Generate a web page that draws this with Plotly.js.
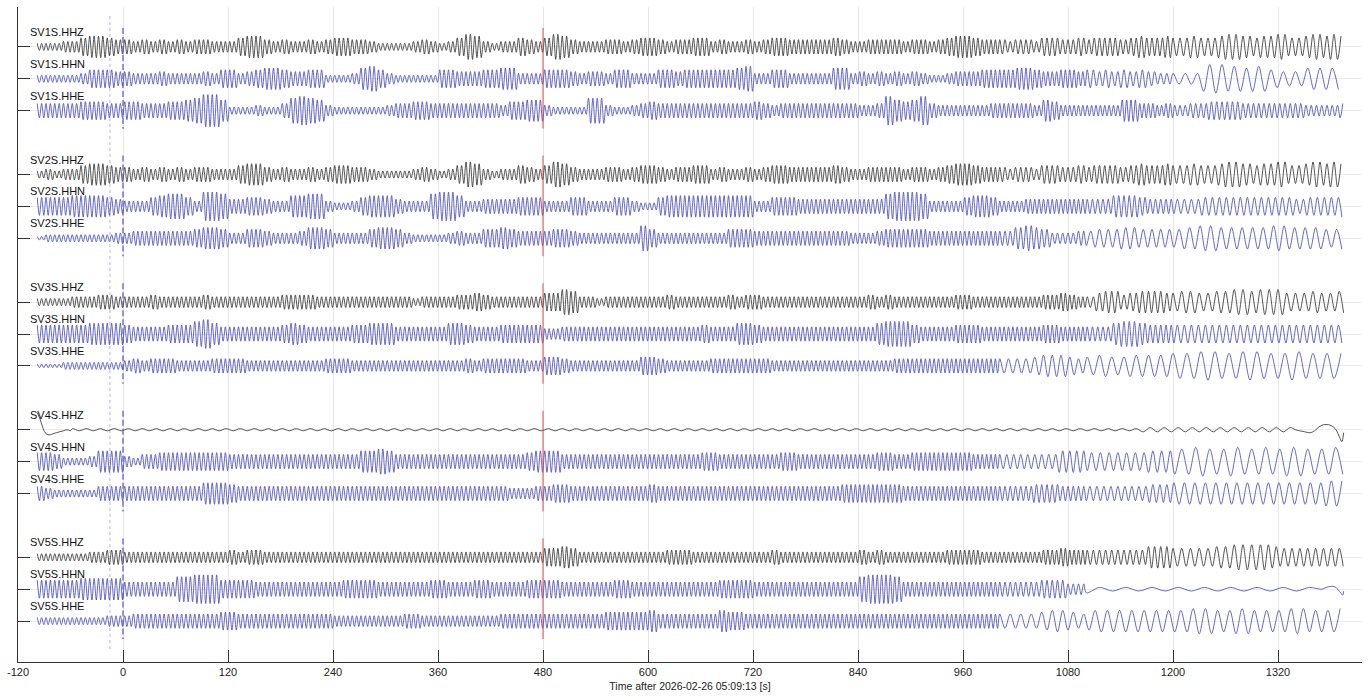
<!DOCTYPE html>
<html>
<head>
<meta charset="utf-8">
<script src="https://cdn.plot.ly/plotly-3.0.1.min.js"></script>
<style>
html,body{margin:0;padding:0;background:#fff;}
#chart{width:1371px;height:698px;}
</style>
</head>
<body>
<div id="chart"></div>
<script>
// ---------------- data ----------------
// Time axis: seconds after 2026-02-26 05:09:13
const xTickVals = [-120, 0, 120, 240, 360, 480, 600, 720, 840, 960, 1080, 1200, 1320];
const stations = ['SV1S', 'SV2S', 'SV3S', 'SV4S', 'SV5S'];
const channels = ['HHZ', 'HHN', 'HHE'];
const traceStart = -98, traceEnd = 1395;
const markerTimes = {grey: -15, blue: 0, red: 480};

// Envelope amplitude per 10 s bin (digit 0-9), one string of 10 bins per 100 s, from -100 s
const env_SV1S_HHZ = ["2223356654","4343434344","3335664343","3434554432","2223432357","6323354357","6433344345","5434455343","3434554444","4543344443","4434566544","4344355445","4555456556","5565567765","6675567676"];
const env_SV1S_HHN = ["2222235554","4333433334","3553456654","4552223675","3222225544","4556633355","5434435533","3554555555","6733553333","3663434343","4322344455","5566544554","5454545433","3337887767","7544466666"];
const env_SV1S_HHE = ["4444455544","5544455679","9622232247","8763222222","3445544444","4443556632","2227732234","5444444444","4454344444","4444334865","6843333334","4444365333","3333664434","3344555544","4444433334"];
const env_SV2S_HHZ = ["2323356654","4343434344","3335664343","3434554432","2223432357","6323354357","6433344345","5434455343","3434554444","4543344443","4434566544","4344355445","4555456556","5565567765","6675567676"];
const env_SV2S_HHN = ["5555666654","3335677538","8744554336","6773223566","6433378863","3444455533","3553335532","2566666666","6633555444","4444444788","8733335665","3334444444","4446665444","4445555555","5555455556"];
const env_SV2S_HHE = ["1222222223","3444444456","6533554333","4665333356","6532222343","3556544445","5433333337","5333333335","5544444444","4443334555","5544444444","4467653334","4555665555","5667766666","6776666556"];
const env_SV3S_HHZ = ["2222333443","3334333334","3333333344","4433333333","3332333344","5433333355","7633233333","3343333334","3443333333","3333343433","3333344333","3333344543","3566456665","5665566776","7775556556"];
const env_SV3S_HHN = ["5555556666","5444455578","6444444456","5444445566","6444444665","4445555533","4444444444","4444445444","6654444444","4444446777","5444455544","4444455444","4446776555","5555555555","5555555555"];
const env_SV3S_HHE = ["1112222222","3434443333","4444333333","3334443333","3333333334","3444443355","4333333335","5433333444","4444333333","3333333344","4444444444","4444566654","5665566666","7778877788","7778877777"];
const env_SV4S_HHZ = ["0000111111","1111111111","1111111111","1111111111","1111111111","1111111111","1111111111","1111111111","1111111111","1111111111","1111111111","1111111111","1111112222","2222222222","2222000000"];
const env_SV4S_HHN = ["5542223666","3244555555","5544444444","4444444667","6444444444","4444445666","4444444444","4444445544","4444455444","4444445544","5555555444","4444444666","5555555666","7788778877","8778877787"];
const env_SV4S_HHE = ["4322222444","4444444446","6654444444","4444444444","4444444444","4444333445","5444444444","5444444444","4444444444","4455555554","4444444444","4444555444","4444444555","6666666666","6666666777"];
const env_SV5S_HHZ = ["2222223344","3333333333","3343443333","3333333333","3333333333","3333333355","6533333333","3344433333","3333433333","3333434333","3333444433","3333344544","4444444666","5555566777","7655555555"];
const env_SV5S_HHN = ["5555566666","4444447788","8555544444","4444455554","4444455444","5544445555","4444445544","4444444455","5544444444","4444788874","4444444444","4444455533","2111111111","1111111111","1111111000"];
const env_SV5S_HHE = ["2222222233","3444444444","4554444444","4444333333","3344333333","3334444444","4444455555","6444444465","5444444444","4444444444","4444444444","4444456654","5666666666","6677766776","6667766667"];

// Dominant period (s) per 100 s block, from -100 s
const per_SV1S_HHZ = [5,5,5,5,5,5,5,5,5,5,5,6,6,8,8];
const per_SV1S_HHN = [5,5,5,5,5,5,5,5,5,5,5,5,7,14,14];
const per_SV1S_HHE = [5,5,5,5,5,5,5,5,5,5,5,5,5,6,6];
const per_SV2S_HHZ = [5,5,5,5,5,5,5,5,5,5,5,6,6,8,8];
const per_SV2S_HHN = [5,5,5,5,5,5,5,5,5,5,5,5,6,8,8];
const per_SV2S_HHE = [5,5,5,5,5,5,5,5,5,5,5,6,10,12,12];
const per_SV3S_HHZ = [5,5,5,5,5,5,5,5,5,5,5,5,7,10,10];
const per_SV3S_HHN = [5,5,5,5,5,5,5,5,5,5,5,5,6,8,8];
const per_SV3S_HHE = [5,5,5,5,5,5,5,5,5,5,5,10,14,16,16];
const per_SV4S_HHZ = [16,16,16,16,16,16,16,16,16,16,16,16,16,16,16];
const per_SV4S_HHN = [5,5,5,5,5,5,5,5,5,5,5,8,10,16,16];
const per_SV4S_HHE = [5,5,5,5,5,5,5,5,5,5,5,6,8,12,12];
const per_SV5S_HHZ = [5,5,5,5,5,5,5,5,5,5,5,5,7,10,9];
const per_SV5S_HHN = [5,5,5,5,5,5,5,5,5,5,5,6,30,30,30];
const per_SV5S_HHE = [5,5,5,5,5,5,5,5,5,5,5,12,14,14,14];

// Transients read directly (time s, offset in trace units)
const sv4zStartT = [-98,-95,-92,-89,-86,-83,-80,-76,-72,-68,-64,-60];
const sv4zStartV = [17,11,3,-3,-5,-5,-4,-3,-2,-1,0,-1];
const sv4zEndT = [1340,1350,1357,1362,1367,1372,1378,1383,1387,1390,1393,1395];
const sv4zEndV = [0,-2,-3,-1,3,5,5,3,-1,-7,-12,-3];
const sv5nEndT = [1370,1376,1382,1386,1389,1392,1394,1395];
const sv5nEndV = [0,2,3,2,-1,-4,-6,-2];

// ---------------- build ----------------
const envs = {
  'SV1S.HHZ': env_SV1S_HHZ, 'SV1S.HHN': env_SV1S_HHN, 'SV1S.HHE': env_SV1S_HHE,
  'SV2S.HHZ': env_SV2S_HHZ, 'SV2S.HHN': env_SV2S_HHN, 'SV2S.HHE': env_SV2S_HHE,
  'SV3S.HHZ': env_SV3S_HHZ, 'SV3S.HHN': env_SV3S_HHN, 'SV3S.HHE': env_SV3S_HHE,
  'SV4S.HHZ': env_SV4S_HHZ, 'SV4S.HHN': env_SV4S_HHN, 'SV4S.HHE': env_SV4S_HHE,
  'SV5S.HHZ': env_SV5S_HHZ, 'SV5S.HHN': env_SV5S_HHN, 'SV5S.HHE': env_SV5S_HHE
};
const pers = {
  'SV1S.HHZ': per_SV1S_HHZ, 'SV1S.HHN': per_SV1S_HHN, 'SV1S.HHE': per_SV1S_HHE,
  'SV2S.HHZ': per_SV2S_HHZ, 'SV2S.HHN': per_SV2S_HHN, 'SV2S.HHE': per_SV2S_HHE,
  'SV3S.HHZ': per_SV3S_HHZ, 'SV3S.HHN': per_SV3S_HHN, 'SV3S.HHE': per_SV3S_HHE,
  'SV4S.HHZ': per_SV4S_HHZ, 'SV4S.HHN': per_SV4S_HHN, 'SV4S.HHE': per_SV4S_HHE,
  'SV5S.HHZ': per_SV5S_HHZ, 'SV5S.HHN': per_SV5S_HHN, 'SV5S.HHE': per_SV5S_HHE
};
const SLOT = 32, DIG = 1.8;
const scaleOf = {'SV4S.HHZ': 0.6};
const explicitStart = {'SV4S.HHZ': [sv4zStartT, sv4zStartV]};
const explicitEnd = {'SV4S.HHZ': [sv4zEndT, sv4zEndV], 'SV5S.HHN': [sv5nEndT, sv5nEndV]};

const data = [], annotations = [], shapes = [], baselines = [];
stations.forEach((st, g) => {
  channels.forEach((ch, c) => {
    const name = st + '.' + ch;
    const base = -SLOT * (4 * g + c);
    baselines.push(base);
    const env = envs[name].join('');
    const per = pers[name];
    const sc = (scaleOf[name] || 1) * DIG;
    const xs = [], ys = [];
    let t0 = traceStart, t1 = traceEnd;
    if (explicitStart[name]) {
      const [tt, vv] = explicitStart[name];
      tt.forEach((t, i) => { xs.push(t); ys.push(base + vv[i]); });
      t0 = tt[tt.length - 1] + 2;
    }
    if (explicitEnd[name]) t1 = explicitEnd[name][0][0] - 1;
    let t = t0, s = 1;
    while (t <= t1) {
      const bi = Math.min(env.length - 1, Math.floor((t + 100) / 10));
      const pi = Math.min(per.length - 1, Math.floor((t + 100) / 100));
      xs.push(t); ys.push(base + s * (+env[bi]) * sc);
      t += per[pi] / 2; s = -s;
    }
    if (explicitEnd[name]) {
      const [tt, vv] = explicitEnd[name];
      tt.forEach((tq, i) => { xs.push(tq); ys.push(base + vv[i]); });
    }
    data.push({
      type: 'scatter', mode: 'lines', name: name, x: xs, y: ys,
      line: {color: ch === 'HHZ' ? '#2a2a2a' : '#4040bf', width: 0.8, shape: 'spline', smoothing: 0.9},
      hoverinfo: 'skip', showlegend: false
    });
    annotations.push({
      x: -109, y: base + 15, xref: 'x', yref: 'y', text: name, showarrow: false,
      xanchor: 'left', yanchor: 'middle',
      font: {family: 'Liberation Sans, Arial, sans-serif', size: 11, color: '#111'}
    });
  });
  const top = -SLOT * 4 * g + 19, bot = -SLOT * 4 * g - 2 * SLOT - 18;
  shapes.push({type: 'line', xref: 'x', yref: 'y', x0: markerTimes.blue, x1: markerTimes.blue, y0: top, y1: bot,
    line: {color: '#5252d2', width: 1.2, dash: '6px,3px'}, layer: 'above'});
  shapes.push({type: 'line', xref: 'x', yref: 'y', x0: markerTimes.red, x1: markerTimes.red, y0: top, y1: bot,
    line: {color: '#e23a33', width: 0.9}, layer: 'above'});
});
shapes.unshift({type: 'line', xref: 'x', yref: 'y', x0: markerTimes.grey, x1: markerTimes.grey, y0: 31, y1: -607,
  line: {color: '#d2d2e4', width: 1.6, dash: 'dot'}, layer: 'below'});

const layout = {
  width: 1371, height: 698,
  margin: {l: 18, r: 9, t: 7, b: 36},
  paper_bgcolor: '#fff', plot_bgcolor: '#fff',
  font: {family: 'Liberation Sans, Arial, sans-serif', size: 11, color: '#222'},
  xaxis: {
    range: [-120, 1416], tickvals: xTickVals, ticktext: xTickVals.map(String),
    ticks: 'inside', ticklen: 12, tickwidth: 1, tickcolor: '#333',
    showline: true, linecolor: '#333', linewidth: 1, mirror: false,
    showgrid: true, gridcolor: '#e6e6e6', gridwidth: 1, zeroline: false,
    tickfont: {size: 11, color: '#222'},
    title: {text: 'Time after 2026-02-26 05:09:13 [s]', font: {size: 10.5, color: '#222'}, standoff: 5}
  },
  yaxis: {
    range: [-617, 40], tickvals: baselines, showticklabels: false,
    ticks: 'inside', ticklen: 12, tickwidth: 1, tickcolor: '#333',
    showline: true, linecolor: '#333', linewidth: 1,
    showgrid: true, gridcolor: '#ececec', zeroline: false
  },
  shapes: shapes,
  annotations: annotations,
  showlegend: false
};
Plotly.newPlot('chart', data, layout, {staticPlot: true, displayModeBar: false});
</script>
</body>
</html>
